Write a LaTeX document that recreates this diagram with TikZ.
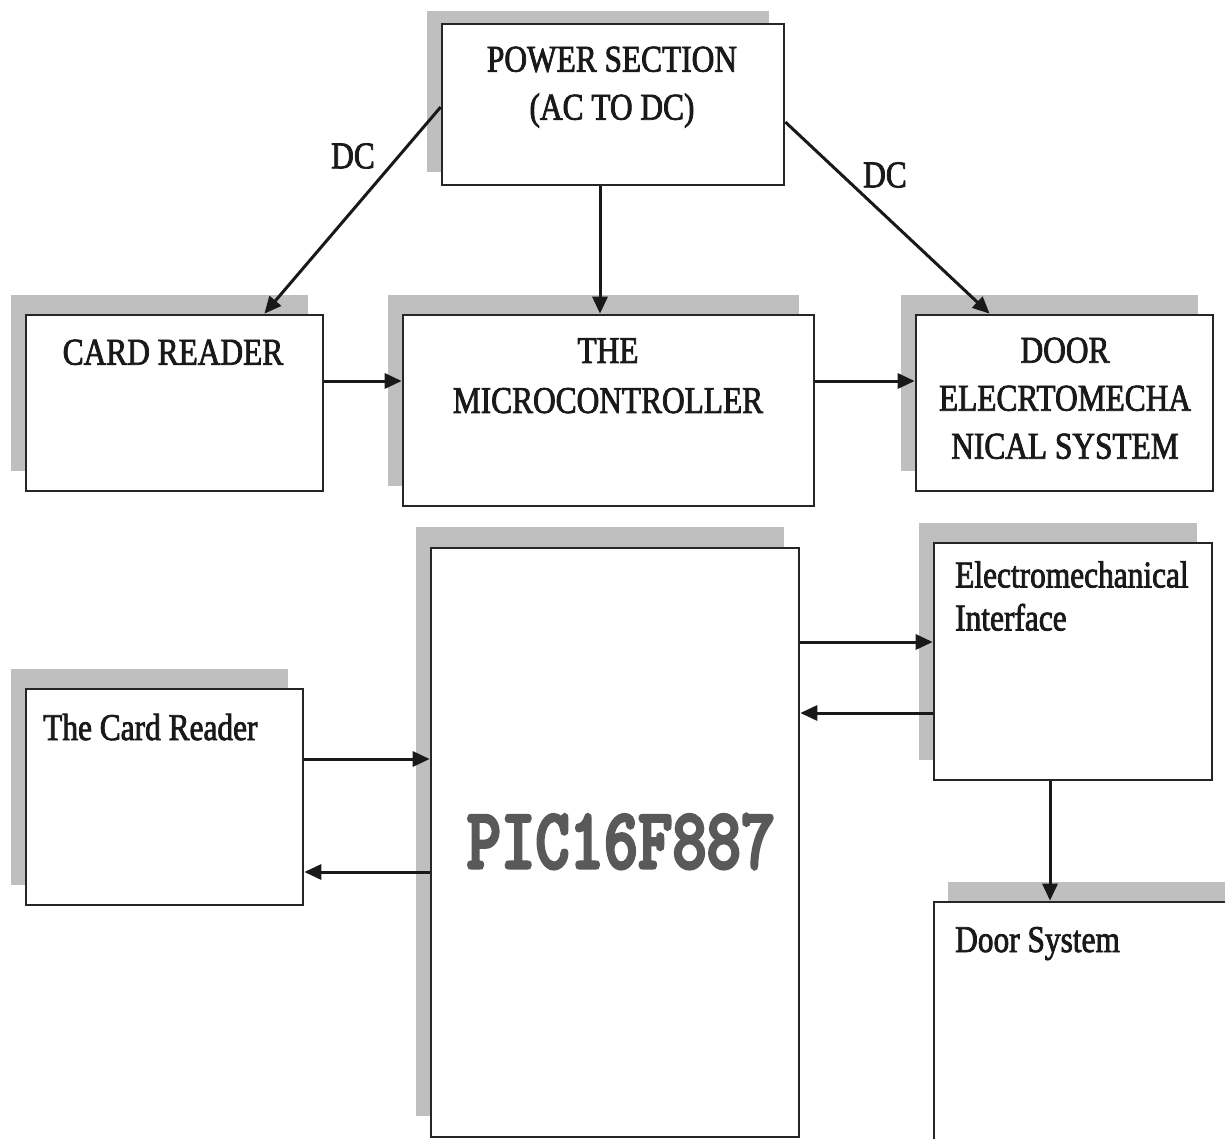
\documentclass[tikz,border=0pt]{standalone}
\usepackage{fontspec}
\usepackage{graphicx}
\usetikzlibrary{arrows.meta,shadows,calc}
\newfontfamily\lblfont[FakeStretch=0.83,FakeBold=2]{Liberation Serif}
\newfontfamily\picfont[FakeStretch=0.75,FakeBold=3]{lmmonolt10-bold.otf}
\begin{document}
\begin{tikzpicture}[x=1pt,y=-1pt,
  box/.style 2 args={draw=black!85, line width=2.6pt, fill=white, rectangle, inner sep=0pt,
    general shadow={shadow xshift=#1, shadow yshift=#2, fill=black!25}},
  lbl/.style={font={\lblfont\fontsize{37.8}{48}\selectfont}, inner sep=0pt, text=black!90},
  arr/.style={line width=3pt, black!90, -{Triangle[length=17pt,width=15pt]}}
]
\useasboundingbox (0,0) rectangle (1225,1139);
\clip (0,0) rectangle (1225,1139);

% boxes
\node[box={-15pt}{13pt}, minimum width=342, minimum height=161] (power) at (613,104.5) {};
\node[box={-15pt}{20pt}, minimum width=297, minimum height=176] (cr) at (174.5,403) {};
\node[box={-15pt}{20pt}, minimum width=411, minimum height=191] (mc) at (608.5,410.5) {};
\node[box={-15pt}{20pt}, minimum width=297, minimum height=176] (door) at (1064.5,403) {};
\node[box={-15pt}{21pt}, minimum width=368, minimum height=589] (pic) at (615,842.5) {};
\node[box={-15pt}{20pt}, minimum width=278, minimum height=237] (ei) at (1073,661.5) {};
\node[box={-15pt}{20pt}, minimum width=277, minimum height=216] (cr2) at (164.5,797) {};
\node[box={14pt}{20pt}, minimum width=306, minimum height=258] (ds) at (1087,1031) {};

% texts
\node[lbl, align=center, anchor=north] (pwt) at (612,46.4) {POWER SECTION\\(AC TO DC)};
\node[lbl, anchor=north] (crt) at (173,339.4) {CARD READER};
\node[lbl, align=center, anchor=north, font={\lblfont\fontsize{37.8}{50}\selectfont}] (mct) at (608,338) {THE\\MICROCONTROLLER};
\node[lbl, align=center, anchor=north] (drt) at (1065,337.4) {DOOR\\ELECRTOMECHA\\NICAL SYSTEM};
\node[lbl, anchor=base west] (cr2t) at (43,740) {The Card Reader};
\node[lbl, align=left, anchor=north west, font={\lblfont\fontsize{37.8}{43}\selectfont}] (eit) at (955,561) {Electromechanical\\Interface};
\node[lbl, anchor=base west] (dst) at (955,952) {Door System};
\node[inner sep=0pt, text=black!65] (pict) at (621,841.5) {\picfont\fontsize{87}{87}\selectfont PIC16F887};
\node[lbl] (dc1) at (353,156) {DC};
\node[lbl] (dc2) at (885,175) {DC};

% connectors
\draw[arr] (power.west |- 0,107) -- ($(cr.north west)!0.8!(cr.north east)$);
\draw[arr] (power.east |- 0,122) -- ($(door.north west)!0.25!(door.north east)$);
\draw[arr] (power.south -| 600,0) -- (mc.north -| 600,0);
\draw[arr] (cr.east |- 0,381) -- (mc.west |- 0,381);
\draw[arr] (mc.east |- 0,381) -- (door.west |- 0,381);
\draw[arr] (pic.east |- 0,642) -- (ei.west |- 0,642);
\draw[arr] (ei.west |- 0,713) -- (pic.east |- 0,713);
\draw[arr] (cr2.east |- 0,759) -- (pic.west |- 0,759);
\draw[arr] (pic.west |- 0,872) -- (cr2.east |- 0,872);
\draw[arr] (ei.south -| 1050,0) -- (ds.north -| 1050,0);
\end{tikzpicture}
\end{document}
